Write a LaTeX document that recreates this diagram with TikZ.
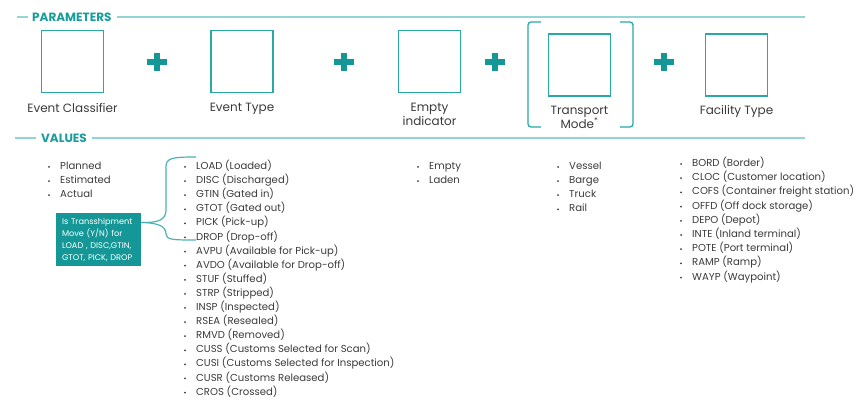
\documentclass[tikz,border=0pt]{standalone}
\usepackage{fontspec}
\setmainfont{Poppins}
\usetikzlibrary{positioning,calc}

\definecolor{hdteal}{HTML}{1A9C9C}
\definecolor{boxteal}{HTML}{2AA7A7}
\definecolor{ruleteal}{HTML}{93D5D5}
\definecolor{plusteal}{HTML}{159797}
\definecolor{txt}{HTML}{3A3A3A}

\begin{document}
\begin{tikzpicture}[x=1pt, y=-1pt,
  every node/.style={text=txt, inner sep=0pt},
  param/.style={draw=boxteal, line width=1.3pt, minimum size=62pt},
  plabel/.style={font=\fontsize{12}{14}\selectfont, align=center},
  head/.style={font=\fontsize{12}{14}\selectfont\bfseries, text=hdteal, anchor=west},
  rule/.style={draw=ruleteal, line width=1.2pt},
  bracket/.style={draw=boxteal, line width=1.3pt, rounded corners=3pt},
  item/.style={font=\fontsize{10.1}{14}\selectfont, anchor=west,
               text height=7.4pt, text depth=2.2pt},
  dot/.style={fill=txt},
  note/.style={fill=plusteal, text=white, align=left, text width=73pt,
               minimum width=85pt, minimum height=53pt,
               font=\fontsize{8.2}{11.8}\selectfont},
  brace/.style={draw=boxteal!85, line width=1.2pt},
]
\useasboundingbox (0,0) rectangle (863,419);

% parameters header
\node[head] (params) at (32,17) {PARAMETERS};
\coordinate (pl) at (17,17);
\coordinate (pr) at (805,17);
\draw[rule] (pl) -- ([xshift=-4pt]params.west);
\draw[rule] ([xshift=5pt]params.east) -- (pr);

% parameter boxes
\node[param] (cls) at (72.5,61.5) {};
\node[param] (typ) at (242,61.5) {};
\node[param] (emp) at (429.5,61.5) {};
\node[param] (mode) at (579.5,65) {};
\node[param] (fac) at (736.5,65) {};

\node[plabel, below=10pt of cls] (clsl) {Event Classifier};
\node[plabel, below=10pt of typ] (typl) {Event Type};
\node[plabel, below=10pt of emp] (empl) {Empty\\indicator};
\node[plabel, below=9pt of mode] (model) {Transport\\Mode\textsuperscript{*}};
\node[plabel, below=9pt of fac] (facl) {Facility Type};

% brackets round transport mode
\draw[bracket] (541,22) -| (528,127) -- (541,127);
\draw[bracket] (620,22) -| (633,127) -- (620,127);

% plus signs
\foreach \x in {157,344,495,664}{
  \fill[plusteal] (\x-10,62-3.3) rectangle (\x+10,62+3.3);
  \fill[plusteal] (\x-3.3,62-9) rectangle (\x+3.3,62+9);
}

% values header
\node[head] (vals) at (41,138) {VALUES};
\coordinate (vl) at (15,138);
\coordinate (vr) at (805,138);
\draw[rule] (vl) -- ([xshift=-5pt]vals.west);
\draw[rule] ([xshift=5pt]vals.east) -- (vr);

% value lists
\foreach \t [count=\i from 0] in {Planned,Estimated,Actual}{
  \node[item] (v1\i) at (60,167+14.1*\i) {\t};
  \fill[dot] ($(v1\i.west)+(-11,0)$) circle (1pt);
}
\foreach \t [count=\i from 0] in {LOAD (Loaded),DISC (Discharged),GTIN (Gated in),
    GTOT (Gated out),PICK (Pick-up),DROP (Drop-off),AVPU (Available for Pick-up),
    AVDO (Available for Drop-off),STUF (Stuffed),STRP (Stripped),INSP (Inspected),
    RSEA (Resealed),RMVD (Removed),CUSS (Customs Selected for Scan),
    CUSI (Customs Selected for Inspection),CUSR (Customs Released),CROS (Crossed)}{
  \node[item] (v2\i) at (196,167+14.1*\i) {\t};
  \fill[dot] ($(v2\i.west)+(-11,0)$) circle (1pt);
}
\foreach \t [count=\i from 0] in {Empty,Laden}{
  \node[item] (v3\i) at (429,167+14.1*\i) {\t};
  \fill[dot] ($(v3\i.west)+(-11,0)$) circle (1pt);
}
\foreach \t [count=\i from 0] in {Vessel,Barge,Truck,Rail}{
  \node[item] (v4\i) at (569,167+14.1*\i) {\t};
  \fill[dot] ($(v4\i.west)+(-11,0)$) circle (1pt);
}
\foreach \t [count=\i from 0] in {BORD (Border),CLOC (Customer location),
    COFS (Container freight station),OFFD (Off dock storage),DEPO (Depot),
    INTE (Inland terminal),POTE (Port terminal),RAMP (Ramp),WAYP (Waypoint)}{
  \node[item] (v5\i) at (692,164+14.2*\i) {\t};
  \fill[dot] ($(v5\i.west)+(-11,0)$) circle (1pt);
}

% transshipment note and its brace
\node[note] (trans) at (98.5,240) {Is Transshipment\\Move (Y/N) for\\LOAD , DISC,GTIN,\\GTOT, PICK, DROP};
\coordinate (bt) at ($(trans.north east)!0.17!(trans.south east)$);
\coordinate (brtop) at (196,157);
\coordinate (brbot) at (196,240);
\draw[brace] (bt) .. controls (158,223) and (166,220) .. (166,210)
  -- (166,167) .. controls (166,158) and (172,157) .. (brtop);
\draw[brace] (bt) .. controls (158,223) and (166,226) .. (166,234)
  .. controls (166,240) and (174,240) .. (brbot);
\end{tikzpicture}
\end{document}
